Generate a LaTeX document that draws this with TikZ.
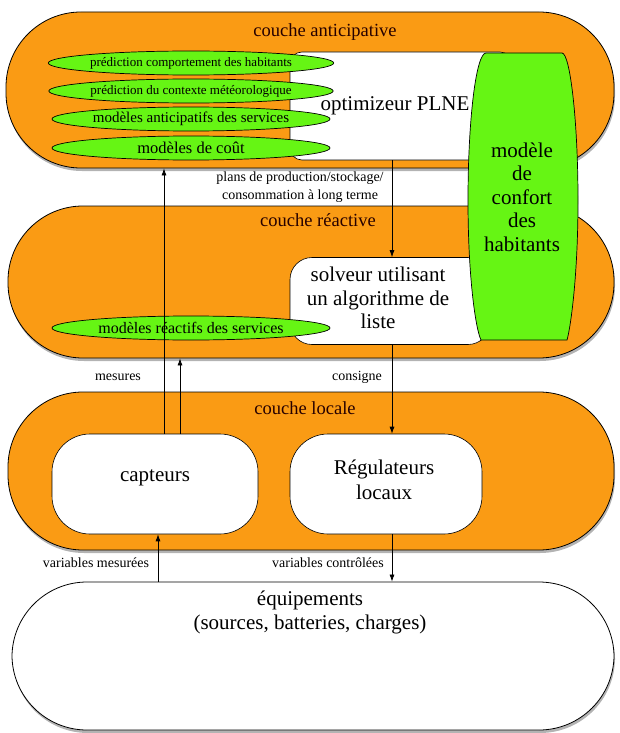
\documentclass[tikz,border=0pt]{standalone}
\usepackage{fontspec}
\setmainfont{Liberation Serif}
\usetikzlibrary{shadows,arrows.meta,shapes.geometric}
\definecolor{orng}{RGB}{250,155,20}
\definecolor{lgreen}{RGB}{102,245,20}
\tikzset{
  layer/.style={draw=black, line width=0.8pt, fill=orng, rounded corners=75pt, inner sep=0pt,
    drop shadow={shadow xshift=1pt, shadow yshift=-3pt, opacity=0.6}},
  whitebox/.style={draw=black, line width=0.6pt, fill=white, inner sep=0pt},
  gell/.style={draw=black, line width=0.7pt, fill=lgreen, ellipse, inner sep=0pt, minimum width=278pt, minimum height=24pt},
  ttl/.style={font=\fontsize{18.5}{20}\selectfont, text=black!85!red},
  big/.style={font=\fontsize{21}{23.5}\selectfont, align=center},
  small/.style={font=\fontsize{14}{18}\selectfont, align=center},
  arr/.style={line width=0.7pt, -{Latex[length=7pt,width=5pt]}},
}
\begin{document}
\begin{tikzpicture}[x=1pt,y=-1pt]
\useasboundingbox (0,0) rectangle (619,733);
% layers
\node[layer, minimum width=608pt, minimum height=156pt] (antic) at (310,90) {};
\node[ttl] (tantic) at (325,32) {couche anticipative};
\node[whitebox, rounded corners=12pt, minimum width=222pt, minimum height=108pt] (opt) at (401,106) {};
\node[big] (topt) at (395,106) {optimizeur PLNE};
\node[gell, font=\fontsize{13}{14}\selectfont] (e1) at (191,63) {prédiction comportement des habitants};
\node[gell, font=\fontsize{13}{14}\selectfont] (e2) at (191,91) {prédiction du contexte météorologique};
\node[gell, font=\fontsize{15}{16}\selectfont] (e3) at (191,119) {modèles anticipatifs des services};
\node[gell, font=\fontsize{16.5}{17}\selectfont] (e4) at (191,148) {modèles de coût};

\node[layer, minimum width=606pt, minimum height=152pt] (reac) at (311,282) {};
\node[ttl] (treac) at (318,220) {couche réactive};
\node[whitebox, rounded corners=22pt, minimum width=200pt, minimum height=87pt] (solv) at (390,301) {};
\node[big] (tsolv) at (378,298) {solveur utilisant\\un algorithme de\\liste};
\node[gell, font=\fontsize{16}{17}\selectfont] (e5) at (191,328) {modèles réactifs des services};

% comfort model
\draw[draw=black, line width=0.7pt, fill=lgreen]
  (486,53) -- (562,53) .. controls (570,53) and (578,120) .. (578,200)
  .. controls (578,280) and (570,330) .. (567,340) -- (481,340)
  .. controls (476,330) and (468,280) .. (468,200)
  .. controls (468,120) and (476,53) .. (486,53) -- cycle;
\node[big] (conf) at (522,197) {modèle\\de\\confort\\des\\habitants};

\node[layer, minimum width=606pt, minimum height=158pt] (loc) at (311,471) {};
\node[ttl] (tloc) at (305,408) {couche locale};
\node[whitebox, rounded corners=38pt, minimum width=206pt, minimum height=100pt] (capt) at (155,484) {};
\node[big] (tcapt) at (155,478) {capteurs};
\node[whitebox, rounded corners=38pt, minimum width=192pt, minimum height=100pt] (reg) at (386,484) {};
\node[big, font=\fontsize{21}{25}\selectfont] (treg) at (384,480) {Régulateurs\\locaux};

\node[whitebox, line width=0.8pt, rounded corners=75pt, minimum width=602pt, minimum height=148pt,
  drop shadow={shadow xshift=1pt, shadow yshift=-3pt, opacity=0.6}] (equip) at (313,656) {};
\node[big, font=\fontsize{21}{24}\selectfont] (tequip) at (310,612) {équipements\\(sources, batteries, charges)};

% connectors
\coordinate (xa) at (164,0);
\coordinate (xb) at (180,0);
\coordinate (xc) at (392,0);
\coordinate (xd) at (158,0);
\draw[arr] (capt.north -| xa) -- (antic.south -| xa);
\draw[arr] (capt.north -| xb) -- (reac.south -| xb);
\draw[arr] (opt.south -| xc) -- (solv.north -| xc);
\draw[arr] (solv.south -| xc) -- (reg.north -| xc);
\draw[arr] (reg.south -| xc) -- (equip.north -| xc);
\draw[arr] (equip.north -| xd) -- (capt.south -| xd);

% labels
\node[small] (lplans) at (300,187) {plans de production/stockage/\\consommation à long terme};
\node[small] (lmes) at (118,377) {mesures};
\node[small] (lcons) at (357,377) {consigne};
\node[small] (lvm) at (96,563) {variables mesurées};
\node[small] (lvc) at (328,563) {variables contrôlées};
\end{tikzpicture}
\end{document}
